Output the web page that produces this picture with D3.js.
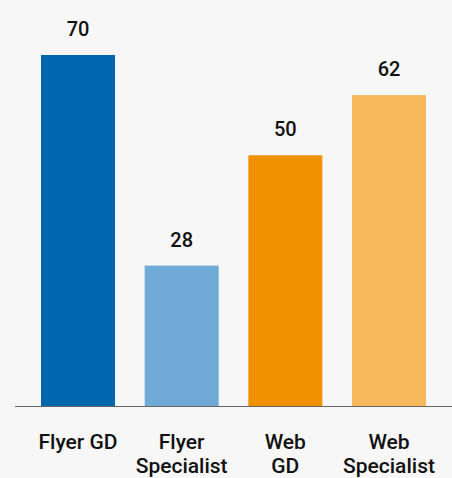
<!DOCTYPE html>
<html>
<head>
<meta charset="utf-8">
<script src="https://cdn.jsdelivr.net/npm/d3@7"></script>
<style>
  html, body { margin: 0; padding: 0; background: #f7f7f7; }
  text { font-family: Roboto, "Noto Sans", sans-serif; fill: #111; }
</style>
</head>
<body>
<div id="chart"></div>
<script>
const categories = ['Flyer GD', 'Flyer Specialist', 'Web GD', 'Web Specialist'];
const labelLines = [['Flyer GD'], ['Flyer', 'Specialist'], ['Web', 'GD'], ['Web', 'Specialist']];
const values = [70, 28, 50, 62];
const colors = ['#0066ae', '#70aad6', '#f29100', '#f7b85c'];

const width = 452, height = 478;
const baseline = 406;

const svg = d3.select('#chart')
    .append('svg')
    .attr('width', width)
    .attr('height', height);

svg.append('rect')
    .attr('width', width)
    .attr('height', height)
    .attr('fill', '#f7f7f7');

// x: band scale, bars ~74px wide
const x = d3.scaleBand()
    .domain(categories)
    .range([41, 426])
    .paddingInner(0.286)
    .paddingOuter(0);

const y = d3.scaleLinear()
    .domain([0, 70])
    .range([baseline, 55]);

// bars
svg.selectAll('.bar')
    .data(values)
    .join('rect')
    .attr('class', 'bar')
    .attr('x', (d, i) => x(categories[i]))
    .attr('y', d => y(d))
    .attr('width', x.bandwidth())
    .attr('height', d => y(0) - y(d))
    .attr('fill', (d, i) => colors[i]);

// value labels
svg.selectAll('.value')
    .data(values)
    .join('text')
    .attr('class', 'value')
    .attr('x', (d, i) => x(categories[i]) + x.bandwidth() / 2)
    .attr('y', d => y(d) - 19)
    .attr('text-anchor', 'middle')
    .style('font-size', '20px')
    .style('font-weight', 500)
    .text(d => d);

// baseline
svg.append('line')
    .attr('x1', 15)
    .attr('x2', width)
    .attr('y1', y(0) + 0.5)
    .attr('y2', y(0) + 0.5)
    .attr('stroke', '#666')
    .attr('stroke-width', 1.2);

// category labels
const labels = svg.selectAll('.cat')
    .data(categories)
    .join('text')
    .attr('class', 'cat')
    .attr('x', d => x(d) + x.bandwidth() / 2)
    .attr('y', 449)
    .attr('text-anchor', 'middle')
    .style('font-size', '21px')
    .style('font-weight', 500);

labels.selectAll('tspan')
    .data((d, i) => labelLines[i])
    .join('tspan')
    .attr('x', function() { return this.parentNode.getAttribute('x'); })
    .attr('dy', (d, i) => i === 0 ? 0 : 24)
    .text(d => d);
</script>
</body>
</html>
